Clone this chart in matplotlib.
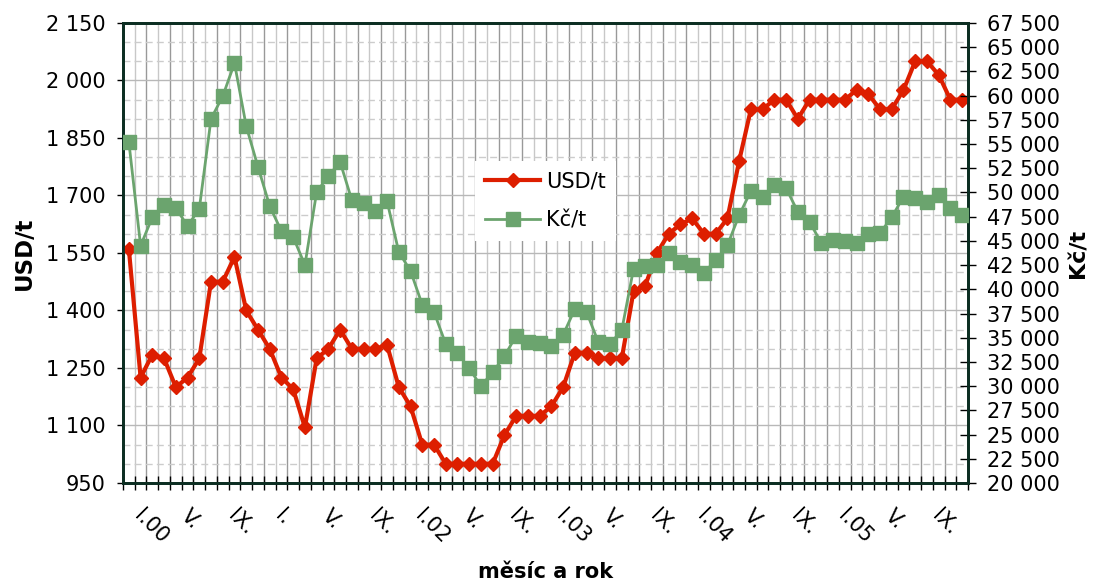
import numpy as np
import matplotlib
matplotlib.use("Agg")
import matplotlib.pyplot as plt
from matplotlib.ticker import FixedLocator, FuncFormatter, MultipleLocator
from matplotlib.transforms import ScaledTranslation

# ---- data (monthly, I.2000 - XII.2005) ----
usd = [1560, 1225, 1285, 1275, 1200, 1225, 1275, 1475, 1475, 1540, 1400, 1350,
       1300, 1225, 1195, 1095, 1275, 1300, 1350, 1300, 1300, 1300, 1310, 1200,
       1150, 1050, 1050, 1000, 1000, 1000, 1000, 1000, 1075, 1125, 1125, 1125,
       1150, 1200, 1290, 1290, 1275, 1275, 1275, 1450, 1465, 1550, 1600, 1625,
       1640, 1600, 1600, 1640, 1790, 1925, 1925, 1950, 1950, 1900, 1950, 1950,
       1950, 1950, 1975, 1965, 1925, 1925, 1975, 2050, 2050, 2015, 1950, 1950]
czk = [55200, 44500, 47450, 48700, 48400, 46550, 48300, 57600, 59950, 63350, 56850, 52650,
       48600, 46000, 45400, 42500, 50050, 51700, 53150, 49200, 48900, 48100, 49100, 43850,
       41900, 38400, 37650, 34350, 33400, 31850, 30000, 31450, 33100, 35200, 34550, 34450,
       34150, 35300, 37950, 37650, 34550, 34350, 35800, 42100, 42400, 42500, 43750, 42800,
       42500, 41700, 43000, 44550, 47650, 50150, 49550, 50750, 50450, 48000, 46950, 44800,
       45100, 45000, 44800, 45700, 45800, 47450, 49550, 49450, 49000, 49750, 48400, 47650]
month_labels = ['I.00', 'V.', 'IX.', 'I.', 'V.', 'IX.', 'I.02', 'V.', 'IX.',
                'I.03', 'V.', 'IX.', 'I.04', 'V.', 'IX.', 'I.05', 'V.', 'IX.']
usd_ticks = [950, 1100, 1250, 1400, 1550, 1700, 1850, 2000, 2150]
czk_ticks = list(range(20000, 67501, 2500))

RED = '#dd1e00'
GREEN = '#6ba46e'
SPINE = '#0c2e22'

def thousands(v, pos=None):
    return f"{int(v):,}".replace(',', ' ')

fig = plt.figure(figsize=(10.95, 5.85), dpi=100)
ax = fig.add_axes([123/1095, 1-483/585, 845/1095, 460/585])
ax2 = ax.twinx()

x = np.arange(len(usd))
ax.set_xlim(-0.5, len(usd) - 0.5)
ax.set_ylim(usd_ticks[0], usd_ticks[-1])
ax2.set_ylim(czk_ticks[0], czk_ticks[-1])

# grids
ax.yaxis.set_major_locator(FixedLocator(usd_ticks))
ax.yaxis.set_minor_locator(MultipleLocator(50))
ax.yaxis.set_major_formatter(FuncFormatter(thousands))
ax.grid(True, axis='y', which='major', color='#b8b8b8', lw=1, ls='-', zorder=0)
ax.grid(True, axis='y', which='minor', color='#cccccc', lw=1, ls=(0, (5, 3)), zorder=0)
bounds = np.arange(0.5, len(usd) - 0.5, 1.0)
cols = ['#c8c8c8' if i % 2 == 0 else '#999999' for i in range(len(bounds))]
ax.vlines(bounds, 0, 1, transform=ax.get_xaxis_transform(), colors=cols, lw=1, zorder=0.5)

ax.plot(x, usd, color=RED, lw=3, marker='D', markersize=7, zorder=3, label='USD/t')
ax2.plot(x, czk, color=GREEN, lw=2, marker='s', markersize=10, zorder=3, label='Kč/t')

# x ticks
ax.set_xticks(np.arange(-0.5, len(usd), 1.0), minor=True)
ax.set_xticks(x[::4])
ax.set_xticklabels(month_labels)
ax.tick_params(axis='x', which='minor', direction='inout', length=10, width=1, color='black')
ax.tick_params(axis='x', which='major', length=0, pad=16, labelsize=15)
for lab in ax.get_xticklabels():
    lab.set_rotation(-45)
    lab.set_ha('left')
    lab.set_va('top')
    lab.set_rotation_mode('anchor')
    lab.set_transform(lab.get_transform() + ScaledTranslation(11/72, 0, fig.dpi_scale_trans))

ax.tick_params(axis='y', which='major', direction='out', length=4.5, width=1, color='black',
               labelsize=15, pad=8)
ax.tick_params(axis='y', which='minor', length=0)

ax2.yaxis.set_major_locator(FixedLocator(czk_ticks))
ax2.yaxis.set_major_formatter(FuncFormatter(thousands))
ax2.tick_params(axis='y', which='major', direction='inout', length=11, width=1, color='black',
                labelsize=15, pad=8)

for a in (ax, ax2):
    for s in a.spines.values():
        s.set_color(SPINE)
        s.set_linewidth(2)

ax.set_ylabel('USD/t', fontsize=16.5, fontweight='bold')
ax.yaxis.set_label_coords(-0.1030, 0.5)
ax2.set_ylabel('Kč/t', fontsize=16, fontweight='bold')
ax2.yaxis.set_label_coords(1.119, 0.5)
ax.set_xlabel('měsíc a rok', fontsize=15, fontweight='bold')
ax.xaxis.set_label_coords(0.5, -0.172)

h1, l1 = ax.get_legend_handles_labels()
h2, l2 = ax2.get_legend_handles_labels()
leg = ax2.legend(h1 + h2, l1 + l2, loc='center', bbox_to_anchor=(0.50, 0.613),
                 fontsize=15, frameon=True, fancybox=False, framealpha=1,
                 edgecolor='none', facecolor='white', handlelength=2.6,
                 handletextpad=0.3, labelspacing=0.9, numpoints=1, borderpad=0.5)

fig.savefig('out.png', dpi=100)
